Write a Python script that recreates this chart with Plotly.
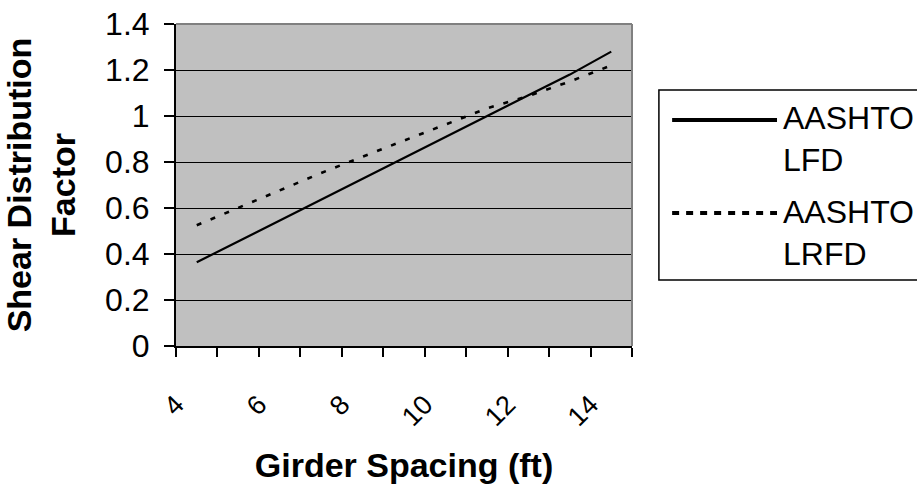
import plotly.graph_objects as go

# Data
girder_spacing = [4.5, 5.5, 6.5, 7.5, 8.5, 9.5, 10.5, 11.5, 12.5, 13.5, 14.5]
lfd_values = [0.364, 0.455, 0.546, 0.638, 0.728, 0.820, 0.910, 1.000, 1.090, 1.180, 1.280]
lrfd_values = [0.525, 0.600, 0.678, 0.752, 0.823, 0.893, 0.960, 1.033, 1.087, 1.150, 1.220]
series_names = ["AASHTO LFD", "AASHTO LRFD"]
legend_labels = ["AASHTO<br>LFD", "AASHTO<br>LRFD"]
x_tick_vals = [4, 5, 6, 7, 8, 9, 10, 11, 12, 13, 14, 15]
x_tick_text = ["4", "", "6", "", "8", "", "10", "", "12", "", "14", ""]

FONT = "Liberation Sans, Arial, sans-serif"

fig = go.Figure()
fig.add_trace(go.Scatter(x=girder_spacing, y=lfd_values, mode="lines", name=series_names[0],
                         line=dict(color="black", width=2.2), showlegend=False))
fig.add_trace(go.Scatter(x=girder_spacing, y=lrfd_values, mode="lines", name=series_names[1],
                         line=dict(color="black", width=2.6, dash="5px,10px"), showlegend=False))

shapes = []
# top and right plot border (gray)
shapes.append(dict(type="line", xref="paper", yref="paper", x0=0, x1=1, y0=1, y1=1,
                   line=dict(color="#808080", width=2), layer="above"))
shapes.append(dict(type="line", xref="paper", yref="paper", x0=1, x1=1, y0=0, y1=1,
                   line=dict(color="#808080", width=2), layer="above"))
# custom legend box
shapes.append(dict(type="rect", xref="paper", yref="paper", x0=1.059, x1=1.70, y0=0.205, y1=0.795,
                   line=dict(color="black", width=1.5), fillcolor="white", layer="above"))
shapes.append(dict(type="line", xref="paper", yref="paper", x0=1.088, x1=1.318, y0=0.702, y1=0.702,
                   line=dict(color="black", width=4)))
shapes.append(dict(type="line", xref="paper", yref="paper", x0=1.088, x1=1.318, y0=0.413, y1=0.413,
                   line=dict(color="black", width=4, dash="7px,7px")))

annotations = [
    dict(text=legend_labels[0], xref="paper", yref="paper", x=1.326, y=0.643, xanchor="left",
         yanchor="middle", showarrow=False, align="left", font=dict(family=FONT, size=32, color="black")),
    dict(text=legend_labels[1], xref="paper", yref="paper", x=1.326, y=0.352, xanchor="left",
         yanchor="middle", showarrow=False, align="left", font=dict(family=FONT, size=32, color="black")),
]

fig.update_layout(
    width=917, height=487,
    margin=dict(l=176, r=285, t=24, b=141),
    paper_bgcolor="white",
    plot_bgcolor="#C0C0C0",
    font=dict(family=FONT, color="black"),
    shapes=shapes,
    annotations=annotations,
    xaxis=dict(
        range=[4, 15], tickmode="array", tickvals=x_tick_vals, ticktext=x_tick_text,
        ticks="outside", ticklen=9, tickcolor="black", tickwidth=1.5,
        showline=True, linecolor="black", linewidth=2, showgrid=False, zeroline=False,
        tickangle=-45, tickfont=dict(family=FONT, size=27),
        ticklabelstandoff=21, automargin=False,
        title=dict(text="<b>Girder Spacing (ft)</b>", font=dict(family=FONT, size=34), standoff=22),
    ),
    yaxis=dict(
        range=[0, 1.4], dtick=0.2, tick0=0,
        ticks="outside", ticklen=10, tickcolor="black", tickwidth=1.5,
        showline=True, linecolor="black", linewidth=2,
        showgrid=True, gridcolor="black", gridwidth=1.2, zeroline=False,
        tickfont=dict(family=FONT, size=32), ticklabelstandoff=8, automargin=False,
        title=dict(text="<b>Shear Distribution<br>Factor</b>", font=dict(family=FONT, size=34), standoff=24),
    ),
)

fig.write_html("out.html")
